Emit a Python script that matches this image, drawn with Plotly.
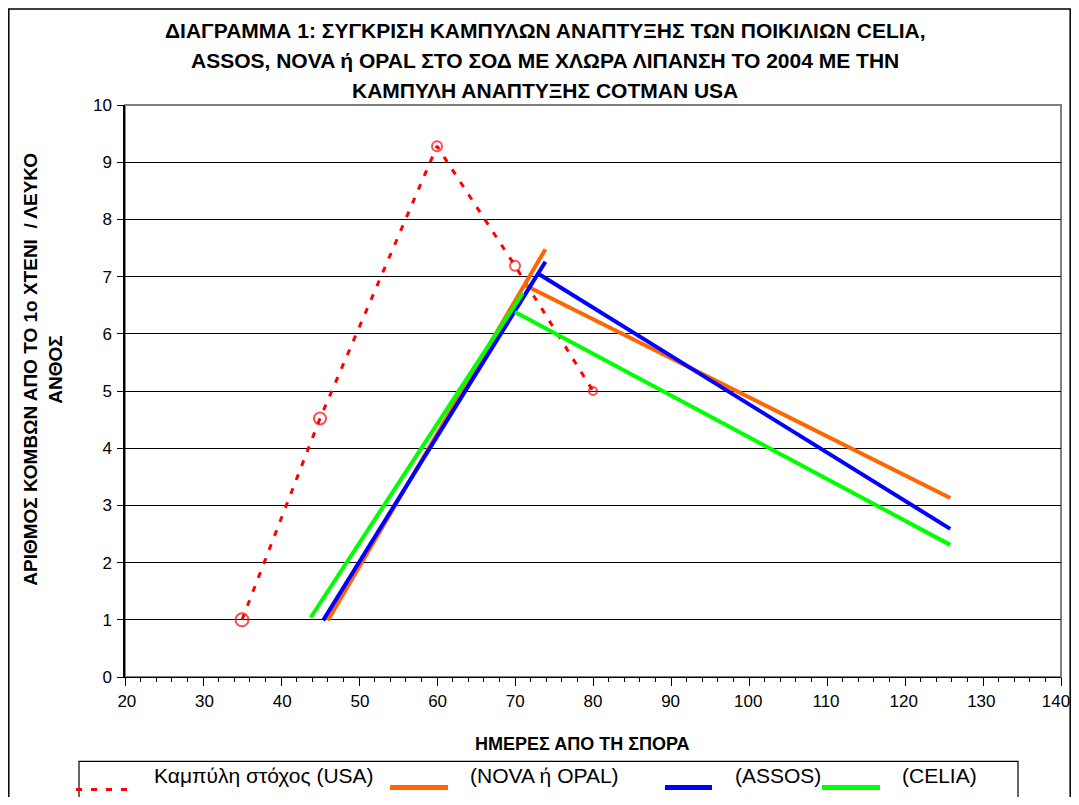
import plotly.graph_objects as go

# ---------------- data ----------------
usa_x = [35, 45, 60, 70, 80]
usa_y = [1.0, 4.52, 9.28, 7.19, 5.0]

nova_rise_x = [46.0, 73.9]
nova_rise_y = [0.99, 7.48]
nova_fall_x = [71.3, 125.8]
nova_fall_y = [6.85, 3.13]

assos_rise_x = [45.4, 73.9]
assos_rise_y = [0.99, 7.26]
assos_fall_x = [73.0, 125.8]
assos_fall_y = [7.05, 2.59]

celia_rise_x = [43.8, 71.0]
celia_rise_y = [1.04, 6.71]
celia_fall_x = [70.0, 125.8]
celia_fall_y = [6.38, 2.31]

x_ticks = [20, 30, 40, 50, 60, 70, 80, 90, 100, 110, 120, 130, 140]
y_ticks = [0, 1, 2, 3, 4, 5, 6, 7, 8, 9, 10]

title_lines = [
    "ΔΙΑΓΡΑΜΜΑ 1: ΣΥΓΚΡΙΣΗ ΚΑΜΠΥΛΩΝ ΑΝΑΠΤΥΞΗΣ ΤΩΝ ΠΟΙΚΙΛΙΩΝ CELIA,",
    "ASSOS, NOVA ή OPAL ΣΤΟ ΣΟΔ ΜΕ ΧΛΩΡΑ ΛΙΠΑΝΣΗ ΤΟ 2004 ΜΕ ΤΗΝ",
    "ΚΑΜΠΥΛΗ ΑΝΑΠΤΥΞΗΣ COTMAN USA",
]
y_title_lines = ["ΑΡΙΘΜΟΣ ΚΟΜΒΩΝ ΑΠΟ ΤΟ 1ο ΧΤΕΝΙ  / ΛΕΥΚΟ", "ΑΝΘΟΣ"]
x_title = "ΗΜΕΡΕΣ ΑΠΟ ΤΗ ΣΠΟΡΑ"
legend_names = ["Καμπύλη στόχος (USA)", "(NOVA ή OPAL)", "(ASSOS)", "(CELIA)"]

RED = "#FF0000"
ORANGE = "#FF6600"
BLUE = "#0000FF"
GREEN = "#00FF00"

# ---------------- layout geometry (page pixel coords; page has 8px body margin) ----------------
OFF = 8
W, H = 1079 - 2 * OFF, 805 - 2 * OFF
P0 = 108                      # left edge of paper area (label axis starts here)
L, R, T, B = 125, 1061, 105, 677.5
PW, PH = R - P0, B - T
# tick labels in the original sit on a slightly different scale than the ticks
LAB_X20, LAB_STEP = 109.9, 7.909   # pixel of label "20", pixels per day
LAB_MAX = 139.6                    # keep the last label inside the figure


def px(v):
    return (v - P0) / PW


def py(v):
    return (B - v) / PH


FONT = "Liberation Sans, Arial, sans-serif"

fig = go.Figure()

fig.add_trace(go.Scatter(
    x=usa_x, y=usa_y, mode="lines+markers", name=legend_names[0],
    line=dict(color=RED, width=3, dash="6px,9px"),
    marker=dict(symbol="circle-open", size=[13, 12, 10, 10, 8], color=RED,
                line=dict(width=2, color=RED)),
))


def seg(xa, ya, xb, yb):
    return xa + [None] + xb, ya + [None] + yb


for name, col, xr, yr, xf, yf in [
    (legend_names[1], ORANGE, nova_rise_x, nova_rise_y, nova_fall_x, nova_fall_y),
    (legend_names[2], BLUE, assos_rise_x, assos_rise_y, assos_fall_x, assos_fall_y),
    (legend_names[3], GREEN, celia_rise_x, celia_rise_y, celia_fall_x, celia_fall_y),
]:
    xs, ys = seg(xr, yr, xf, yf)
    fig.add_trace(go.Scatter(x=xs, y=ys, mode="lines", name=name,
                             line=dict(color=col, width=4), connectgaps=False))

# empty carrier trace for the tick-label axis (draws nothing)
fig.add_trace(go.Scatter(x=x_ticks, y=[None] * len(x_ticks), xaxis="x2", yaxis="y",
                         mode="lines", showlegend=False, hoverinfo="skip"))

shapes = []
annotations = []

# plot area border (gray)
shapes.append(dict(type="rect", xref="paper", yref="paper", x0=px(L), x1=1, y0=0, y1=1,
                   line=dict(color="#808080", width=2), layer="below"))
# outer frame (open at the bottom, like the cropped original)
fx0, fx1, fy0, fy1 = px(8.8), px(OFF + W - 0.8), py(9), py(830)
shapes.append(dict(type="path", xref="paper", yref="paper",
                   path="M %f %f L %f %f L %f %f L %f %f" % (fx0, fy1, fx0, fy0, fx1, fy0, fx1, fy1),
                   line=dict(color="black", width=1.5)))

# title
for i, line in enumerate(title_lines):
    annotations.append(dict(text="<b>%s</b>" % line, xref="paper", yref="paper",
                            x=px(545), y=py(30 + 30 * i), xanchor="center", yanchor="middle",
                            showarrow=False, font=dict(family=FONT, size=21, color="black")))

# y axis title
for i, line in enumerate(y_title_lines):
    annotations.append(dict(text="<b>%s</b>" % line, xref="paper", yref="paper",
                            x=px(31 + 25 * i), y=py(370), xanchor="center", yanchor="middle",
                            textangle=-90, showarrow=False,
                            font=dict(family=FONT, size=19, color="black")))

# x axis title
annotations.append(dict(text="<b>%s</b>" % x_title, xref="paper", yref="paper",
                        x=px(582), y=py(745), xanchor="center", yanchor="middle",
                        showarrow=False, font=dict(family=FONT, size=18, color="black")))

# manual legend (box continues past the bottom edge)
lx0, lx1, ly0, ly1 = px(79), px(1018), py(762), py(830)
shapes.append(dict(type="path", xref="paper", yref="paper",
                   path="M %f %f L %f %f L %f %f L %f %f" % (lx0, ly1, lx0, ly0, lx1, ly0, lx1, ly1),
                   line=dict(color="black", width=1.2)))
legend_items = [
    (RED, 76, 133, 790, "6px,9px", 3, 152),
    (ORANGE, 390, 448, 788, "solid", 5, 468),
    (BLUE, 665, 712, 788, "solid", 5, 733),
    (GREEN, 822, 880, 788, "solid", 5, 900),
]
for (col, xa, xb, yy, dash, w, tx), name in zip(legend_items, legend_names):
    shapes.append(dict(type="line", xref="paper", yref="paper",
                       x0=px(xa), x1=px(xb), y0=py(yy), y1=py(yy),
                       line=dict(color=col, width=w, dash=dash)))
    annotations.append(dict(text=name, xref="paper", yref="paper",
                            x=px(tx), y=py(776), xanchor="left", yanchor="middle",
                            showarrow=False,
                            font=dict(family=FONT, size=21, color="black")))

fig.update_layout(
    width=W, height=H, autosize=False,
    margin=dict(l=P0 - OFF, r=(OFF + W) - R, t=T - OFF, b=(OFF + H) - B, pad=0,
                autoexpand=False),
    paper_bgcolor="white", plot_bgcolor="white",
    showlegend=False,
    shapes=shapes, annotations=annotations,
    font=dict(family=FONT, size=17, color="black"),
    xaxis=dict(
        domain=[px(L), 1], range=[20, 140], tickvals=x_ticks, showticklabels=False,
        showgrid=False, zeroline=False, automargin=False,
        showline=True, linecolor="black", linewidth=1,
        ticks="outside", ticklen=8, tickcolor="black", tickwidth=1,
        minor=dict(dtick=2, tick0=20, ticks="outside", ticklen=4, tickcolor="black", showgrid=False),
    ),
    xaxis2=dict(
        overlaying="x", anchor="y", side="bottom", domain=[0, 1],
        range=[20 + (P0 - LAB_X20) / LAB_STEP, 20 + (R - LAB_X20) / LAB_STEP],
        tickvals=[min(v, LAB_MAX) for v in x_ticks], ticktext=[str(v) for v in x_ticks],
        showgrid=False, zeroline=False, showline=False, ticks="", automargin=False,
        tickfont=dict(family=FONT, size=17, color="black"),
        ticklabelstandoff=12,
    ),
    yaxis=dict(
        range=[0, 10], tickvals=y_ticks, ticktext=[str(v) for v in y_ticks],
        showgrid=True, gridcolor="black", gridwidth=1.2, zeroline=False, automargin=False,
        showline=True, linecolor="black", linewidth=1.5,
        ticks="outside", ticklen=6, tickcolor="black", tickwidth=1,
        tickfont=dict(family=FONT, size=17, color="black"),
        ticklabelstandoff=2,
    ),
)

fig.write_html("out.html")
